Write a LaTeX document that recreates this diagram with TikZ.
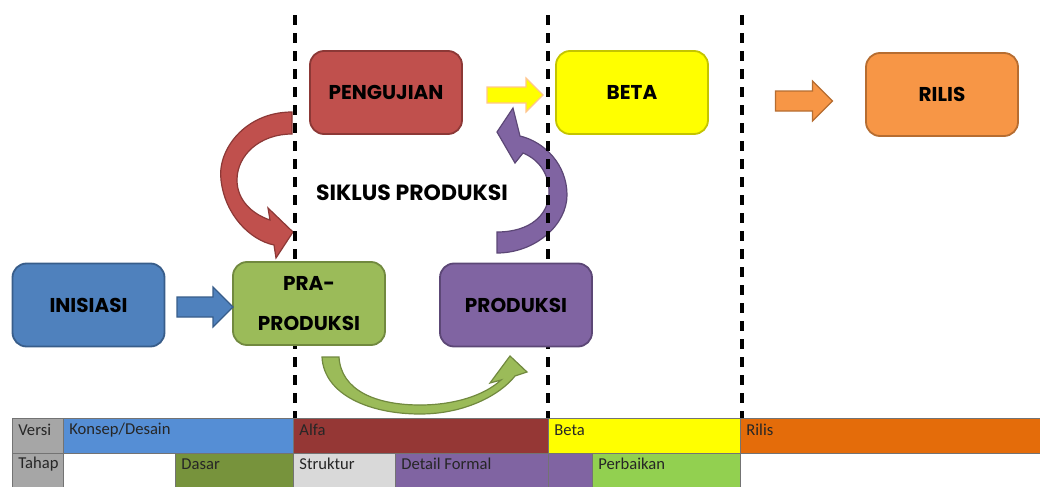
\documentclass[tikz,border=0pt]{standalone}
\usepackage{fontspec}
\setmainfont{Carlito}
\newfontfamily\headfont{Poppins}
\usetikzlibrary{shapes.arrows}

\definecolor{iniblue}{HTML}{4F81BD}
\definecolor{iniblueline}{HTML}{385D8A}
\definecolor{pragreen}{HTML}{9BBB59}
\definecolor{pragreenline}{HTML}{71893F}
\definecolor{prodpurple}{HTML}{8064A2}
\definecolor{prodpurpleline}{HTML}{5C4776}
\definecolor{ujired}{HTML}{C0504D}
\definecolor{ujiredline}{HTML}{8C3836}
\definecolor{betayellow}{HTML}{FFFF00}
\definecolor{betayellowline}{HTML}{C4C400}
\definecolor{rilisorange}{HTML}{F79646}
\definecolor{rilisorangeline}{HTML}{B66D31}
\definecolor{cellgray}{HTML}{A6A6A6}
\definecolor{cellblue}{HTML}{558ED5}
\definecolor{cellred}{HTML}{953735}
\definecolor{cellorange}{HTML}{E46C0A}
\definecolor{cellolive}{HTML}{77933C}
\definecolor{celllight}{HTML}{D9D9D9}
\definecolor{celllime}{HTML}{92D050}

\begin{document}
\begin{tikzpicture}[x=0.5pt, y=-0.5pt,
    stage/.style={draw, rounded corners=7pt, minimum width=76pt, minimum height=41.5pt,
      line width=0.9pt, inner sep=0pt, align=center,
      font=\headfont\bfseries\fontsize{10}{12}\selectfont},
    blockarrow/.style={single arrow, draw, line width=0.6pt, inner sep=0pt,
      single arrow head extend=5pt, shape border rotate=0},
    swoop/.style={line width=0.6pt},
    cut/.style={line width=1.7pt, dash pattern=on 5pt off 4pt},
    cell/.style={draw=black!55, line width=0.4pt},
    celltext/.style={anchor=west, inner sep=0pt, xshift=3pt, text=black!85,
      font=\fontsize{8.3}{10}\selectfont}]
    \useasboundingbox (0,0) rectangle (1040,487);

    % curved arrows of the cycle
    \filldraw[swoop, fill=ujired, draw=ujiredline]
      (292,112) .. controls (245,112) and (217,150) .. (221,180)
      .. controls (225,215) and (250,240) .. (274,245) -- (276,258) -- (293,232)
      -- (268,208) -- (270,220) .. controls (252,214) and (237,200) .. (237,180)
      .. controls (237,155) and (260,134) .. (292,134) -- cycle;
    \filldraw[swoop, fill=prodpurple, draw=prodpurpleline]
      (497,253) .. controls (535,253) and (567,225) .. (567,195)
      .. controls (567,165) and (545,142) .. (520,136) -- (513,108) -- (497,132)
      -- (515,163) -- (523,153) .. controls (540,160) and (549,175) .. (549,192)
      .. controls (549,215) and (530,232) .. (497,232) -- cycle;
    \filldraw[swoop, fill=pragreen, draw=pragreenline]
      (322,357) .. controls (324,395) and (370,414) .. (420,414)
      .. controls (465,414) and (500,395) .. (515,376) -- (527,372) -- (510,356)
      -- (490,383) -- (501,380) .. controls (485,395) and (455,405) .. (420,405)
      .. controls (375,405) and (341,390) .. (339,357) -- cycle;

    % version borders
    \foreach \x in {295,548,742}
      \draw[cut] (\x,15) -- (\x,418);

    % stages
    \node[stage, fill=iniblue, draw=iniblueline] (inisiasi) at (88.5,305) {INISIASI};
    \node[stage, fill=pragreen, draw=pragreenline] (praproduksi) at (309,303.5) {PRA-\\[8pt]PRODUKSI};
    \node[stage, fill=prodpurple, draw=prodpurpleline] (produksi) at (516,305) {PRODUKSI};
    \node[stage, fill=ujired, draw=ujiredline] (pengujian) at (386,92.5) {PENGUJIAN};
    \node[stage, fill=betayellow, draw=betayellowline] (beta) at (632,92.5) {BETA};
    \node[stage, fill=rilisorange, draw=rilisorangeline] (rilis) at (942,94.5) {RILIS};

    \node[font=\headfont\bfseries\fontsize{11}{13}\selectfont, inner sep=0pt] (siklus) at (412,193) {SIKLUS PRODUKSI};

    % straight arrows
    \node[blockarrow, fill=iniblue, draw=iniblueline, minimum height=28pt,
      minimum width=20pt, inner sep=4.7pt] (ini-pra) at (200,307) {};
    \node[blockarrow, fill=betayellow, draw=orange!45, minimum height=28pt,
      minimum width=16.5pt, inner sep=3.7pt, single arrow head extend=4.5pt] (uji-beta) at (511,95) {};
    \node[blockarrow, fill=rilisorange, draw=rilisorangeline, minimum height=28.5pt,
      minimum width=19.5pt, inner sep=4.7pt] (beta-rilis) at (799,101) {};

    % version row
    \foreach \xa/\xb/\col/\txt [count=\i] in {12/63/cellgray/Versi, 63/293/cellblue/{Konsep/Desain},
        293/548/cellred/Alfa, 548/740/betayellow/Beta, 740/1040/cellorange/Rilis} {
      \draw[cell, fill=\col] (\xa,418) rectangle (\xb,453);
      \node[celltext] (versi-\i) at (\xa,430) {\txt};
    }
    % phase row
    \foreach \xa/\xb/\col/\txt [count=\i] in {12/63/cellgray/Tahap, 63/175/white/{}, 175/293/cellolive/Dasar,
        293/395/celllight/Struktur, 395/548/prodpurple/Detail Formal, 548/592/prodpurple/{},
        592/740/celllime/Perbaikan} {
      \draw[cell, fill=\col] (\xa,453) rectangle (\xb,487);
      \node[celltext] (tahap-\i) at (\xa,464) {\txt};
    }
\end{tikzpicture}
\end{document}
